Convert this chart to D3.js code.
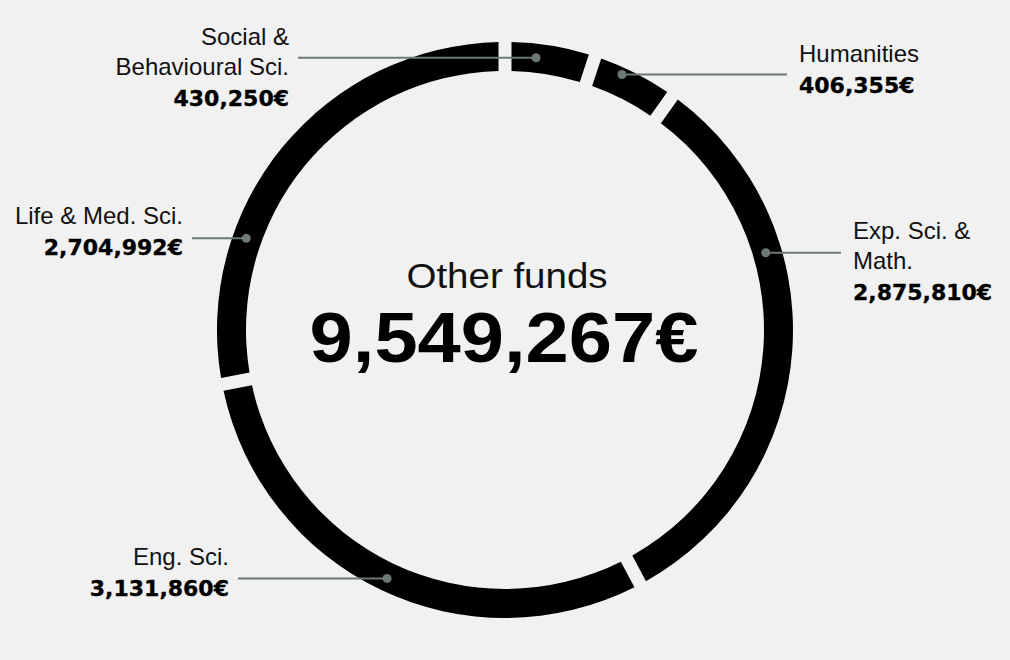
<!DOCTYPE html>
<html>
<head>
  <script src="https://d3js.org/d3.v7.min.js"></script>
  <style>
    body { margin: 0; background: #f1f1f1; }
    svg { display: block; }
    .lbl { font-family: "Liberation Sans", Arial, sans-serif; font-size: 24px; fill: #111; }
    .val { font-family: "DejaVu Sans", sans-serif; font-weight: bold; font-size: 22px; fill: #000; stroke: #000; stroke-width: 0.35px; }
  </style>
</head>
<body>
  <svg width="1010" height="660">
    <g id="ring"/>
    <g id="leaders"/>
    <g id="labels"/>
    <g id="center"/>
  </svg>
  <script>
    // ring order, clockwise from 12 o'clock (as drawn in the reference)
    let categories = ["Social & Behavioural Sci.", "Humanities", "Eng. Sci.", "Exp. Sci. & Math.", "Life & Med. Sci."],
      values = [430250, 406355, 3131860, 2875810, 2704992],
      label_lines = [["Social &", "Behavioural Sci."], ["Humanities"], ["Eng. Sci."], ["Exp. Sci. &", "Math."], ["Life & Med. Sci."]],
      title = "Other funds";

    let width = 1010,
      height = 660,
      cx = 505,
      cy = 330,
      r_outer = 288,
      r_inner = 259,
      gap = 13;

    // where each label sits: text anchor point + angle/radius of the dot on the ring
    let layout = {
      "Social & Behavioural Sci.": { x: 289, y: 45, anchor: "end", angle: 6.5, r: 274 },
      "Humanities": { x: 799, y: 62, anchor: "start", angle: 24.6, r: 281 },
      "Exp. Sci. & Math.": { x: 853, y: 239, anchor: "start", angle: 73.5, r: 272 },
      "Life & Med. Sci.": { x: 183, y: 224, anchor: "end", angle: 289.5, r: 274.5 },
      "Eng. Sci.": { x: 229, y: 565, anchor: "end", angle: 205.4, r: 275 }
    };

    let fmt = d3.format(","),
      line_h = 30,
      grey = "#6d7974";

    function draw() {
      let data = categories.map((c, i) => ({ name: c, value: values[i], lines: label_lines[i] }));
      let pie = d3.pie().sort(null).value(d => d.value).padAngle(gap / r_outer);
      let arc = d3.arc().innerRadius(r_inner).outerRadius(r_outer).padRadius(r_outer);

      d3.select("#ring")
        .attr("transform", `translate(${cx}, ${cy})`)
        .selectAll("path")
        .data(pie(data)).enter()
        .append("path")
        .attr("d", arc)
        .attr("fill", "#000");

      let leaders = d3.select("#leaders").selectAll("g")
        .data(data).enter()
        .append("g");

      leaders.each(function (d) {
        let L = layout[d.name],
          a = L.angle * Math.PI / 180,
          px = cx + L.r * Math.sin(a),
          py = cy - L.r * Math.cos(a),
          tx = L.anchor == "end" ? L.x + 9 : L.x - 12;
        let g = d3.select(this);
        g.append("line")
          .attr("x1", px).attr("y1", py)
          .attr("x2", tx).attr("y2", py)
          .attr("stroke", grey)
          .attr("stroke-width", 2);
        g.append("circle")
          .attr("cx", px).attr("cy", py)
          .attr("r", 4.5)
          .attr("fill", grey);
      });

      let labels = d3.select("#labels").selectAll("text")
        .data(data).enter()
        .append("text")
        .attr("x", d => layout[d.name].x)
        .attr("y", d => layout[d.name].y)
        .attr("text-anchor", d => layout[d.name].anchor);

      labels.each(function (d) {
        let t = d3.select(this);
        d.lines.forEach((l, i) => {
          t.append("tspan")
            .attr("class", "lbl")
            .attr("x", layout[d.name].x)
            .attr("dy", i == 0 ? 0 : line_h)
            .text(l);
        });
        t.append("tspan")
          .attr("class", "val")
          .attr("x", layout[d.name].x)
          .attr("dy", line_h + 1)
          .text(fmt(d.value) + "€");
      });

      // the reference uses a wide grotesk, so stretch the center text a little
      let center = d3.select("#center");
      center.append("text")
        .attr("transform", `translate(${cx + 2}, ${cy - 42}) scale(1.1, 1)`)
        .attr("text-anchor", "middle")
        .style("font-family", "'Liberation Sans', Arial, sans-serif")
        .style("font-size", "35px")
        .style("fill", "#111")
        .text(title);
      center.append("text")
        .attr("transform", `translate(${cx - 1}, ${cy + 32}) scale(1.11, 1)`)
        .attr("text-anchor", "middle")
        .style("font-family", "'Liberation Sans', Arial, sans-serif")
        .style("font-weight", "bold")
        .style("font-size", "70px")
        .style("fill", "#000")
        .text(fmt(d3.sum(values)) + "€");
    }

    draw();
  </script>
</body>
</html>
